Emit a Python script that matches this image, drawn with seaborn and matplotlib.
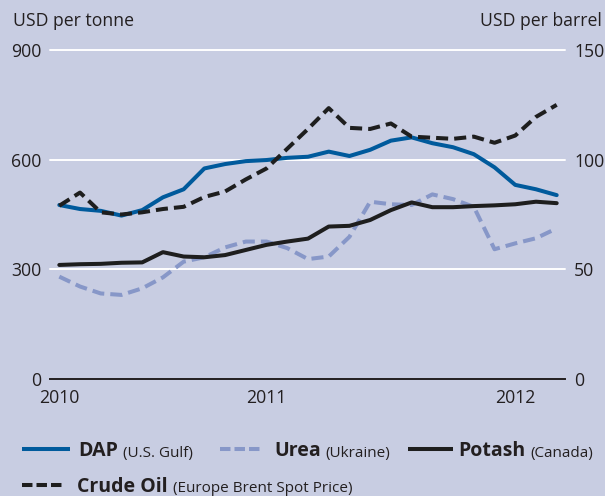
import matplotlib
matplotlib.use("Agg")
import matplotlib.pyplot as plt
from matplotlib.lines import Line2D
import seaborn as sns
import pandas as pd

# Monthly observations, January 2010 onwards
months = list(range(25))
dap = [476, 465, 460, 447, 462, 497, 519, 576, 588, 596, 599, 605, 608,
       622, 610, 627, 652, 661, 645, 634, 615, 579, 531, 519, 503]
urea = [280, 253, 234, 230, 248, 278, 321, 333, 360, 376, 376, 358, 328,
        335, 389, 485, 478, 476, 505, 492, 471, 355, 371, 385, 412]
potash = [312, 314, 315, 318, 319, 347, 335, 333, 339, 353, 367, 376, 384,
          417, 419, 435, 462, 483, 470, 470, 473, 475, 478, 485, 481]
crude = [79, 85, 76, 75, 76, 77.5, 78.5, 83, 85.5, 91, 96, 105, 114,
         123.5, 114.5, 114, 116.5, 110.5, 110, 109.5, 110.5, 107.7, 111, 119.5, 125]

year_ticks = [0, 10, 22]
year_labels = ["2010", "2011", "2012"]
left_ticks = [0, 300, 600, 900]
right_ticks = [0, 50, 100, 150]

series_names = ["DAP", "Urea", "Potash", "Crude Oil"]
series_notes = ["(U.S. Gulf)", "(Ukraine)", "(Canada)", "(Europe Brent Spot Price)"]

BG = "#c8cde2"
DAP_C = "#005a9c"
UREA_C = "#8797c8"
DARK = "#1e1e1e"
TXT = "#231f20"
DASH = (0, (3.0, 1.5))
KEY_DASH = (0, (2.6, 1.0))

sns.set_style("white")
plt.rcParams["font.family"] = ["Open Sans", "DejaVu Sans"]

W, H = 605, 496
fig = plt.figure(figsize=(W / 100, H / 100), dpi=100, facecolor=BG)
ax = fig.add_axes([50 / W, 117 / H, 515 / W, 329 / H])
ax.set_facecolor(BG)
ax2 = ax.twinx()
ax2.patch.set_visible(False)

df = pd.DataFrame({"month": months, "DAP": dap, "Urea": urea,
                   "Potash": potash, "Crude": crude})

# white reference lines at the tonne-scale ticks
for v in left_ticks[1:]:
    ax.axhline(v, color="white", lw=1.4, zorder=0, clip_on=False)

lw = 2.9
sns.lineplot(data=df, x="month", y="Urea", ax=ax, color=UREA_C, linewidth=lw,
             linestyle=DASH, zorder=2)
sns.lineplot(data=df, x="month", y="Potash", ax=ax, color=DARK, linewidth=lw,
             zorder=3)
sns.lineplot(data=df, x="month", y="DAP", ax=ax, color=DAP_C, linewidth=lw,
             zorder=4)
sns.lineplot(data=df, x="month", y="Crude", ax=ax2, color=DARK, linewidth=lw,
             linestyle=DASH, zorder=5)

x0, step = 59.3, 20.725
ax.set_xlim((50 - x0) / step, (565 - x0) / step)
ax.set_ylim(0, 900)
ax2.set_ylim(0, 150)

for a in (ax, ax2):
    for s in a.spines.values():
        s.set_visible(False)
    a.set_xlabel("")
    a.set_ylabel("")
ax.spines["bottom"].set_visible(True)
ax.spines["bottom"].set_color(TXT)
ax.spines["bottom"].set_linewidth(1.4)

fs = 12.7
ax.set_xticks(year_ticks, year_labels)
ax.tick_params(axis="x", direction="in", length=7, width=1.4, color=TXT,
               labelsize=fs, labelcolor=TXT, pad=7.5)
ax.set_yticks(left_ticks)
ax.tick_params(axis="y", length=0, labelsize=fs, labelcolor=TXT, pad=6)
ax2.set_yticks(right_ticks)
ax2.tick_params(axis="y", length=0, labelsize=fs, labelcolor=TXT, pad=6.5)

fig.text(12.7 / W, 1 - 26 / H, "USD per tonne", fontsize=fs, color=TXT,
         ha="left", va="baseline")
fig.text(602 / W, 1 - 26 / H, "USD per barrel", fontsize=fs, color=TXT,
         ha="right", va="baseline")

# legend built from line samples and two-weight labels
legend_rows = [
    (0, DAP_C, "-", 22, 70, 78, 449, 456.5),
    (1, UREA_C, KEY_DASH, 220, 262, 274, 449, 456.5),
    (2, DARK, "-", 408, 453, 458, 449, 456.5),
    (3, DARK, KEY_DASH, 22, 62, 77, 485, 492),
]
fig.canvas.draw()
renderer = fig.canvas.get_renderer()
for idx, col, ls, hx0, hx1, tx, hy, base in legend_rows:
    fig.add_artist(Line2D([hx0 / W, hx1 / W], [1 - hy / H, 1 - hy / H],
                          transform=fig.transFigure, color=col, lw=2.9,
                          linestyle=ls, solid_capstyle="butt",
                          dash_capstyle="butt"))
    t = fig.text(tx / W, 1 - base / H, series_names[idx], fontsize=14,
                 fontweight="bold", color=TXT, ha="left", va="baseline")
    bb = t.get_window_extent(renderer)
    fig.text((bb.x1 + 5) / W, 1 - base / H, series_notes[idx], fontsize=11,
             color=TXT, ha="left", va="baseline")

fig.savefig("out.png", dpi=100, facecolor=BG)
